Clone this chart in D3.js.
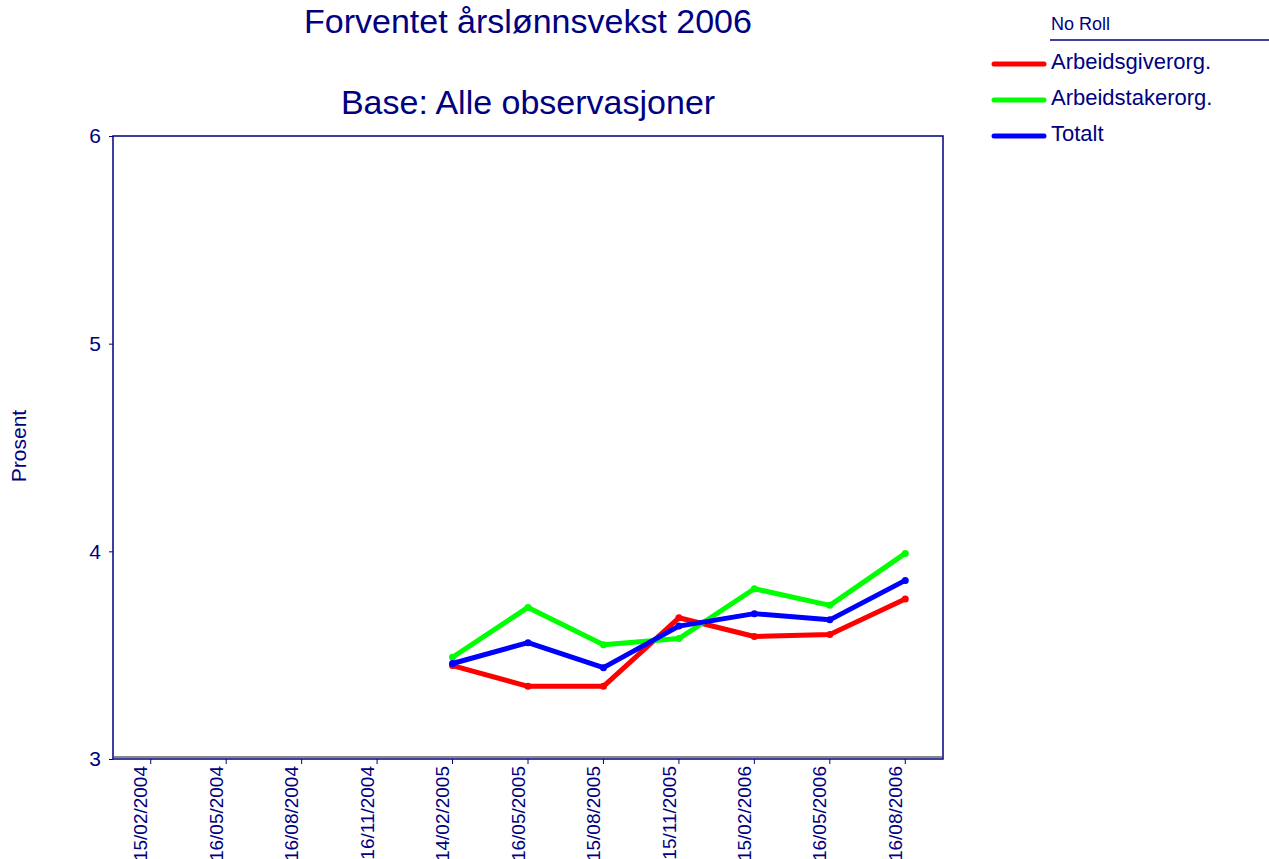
<!DOCTYPE html>
<html>
<head>
<meta charset="utf-8">
<script src="https://cdn.jsdelivr.net/npm/d3@7"></script>
<style>
  body { margin: 0; background: #fff; }
  text { font-family: "Liberation Sans", Arial, sans-serif; fill: #000080; }
</style>
</head>
<body>
<script>
var dates = ["15/02/2004", "16/05/2004", "16/08/2004", "16/11/2004", "14/02/2005",
             "16/05/2005", "15/08/2005", "15/11/2005", "15/02/2006", "16/05/2006", "16/08/2006"];

var arbeidsgiver = [null, null, null, null, 3.45, 3.35, 3.35, 3.68, 3.59, 3.60, 3.77];
var arbeidstaker = [null, null, null, null, 3.49, 3.73, 3.55, 3.58, 3.82, 3.74, 3.99];
var totalt       = [null, null, null, null, 3.46, 3.56, 3.44, 3.64, 3.70, 3.67, 3.86];

var yTicks = [3, 4, 5, 6];

var series = [
  {name: "Arbeidsgiverorg.", color: "#ff0000", values: arbeidsgiver},
  {name: "Arbeidstakerorg.", color: "#00ff00", values: arbeidstaker},
  {name: "Totalt", color: "#0000ff", values: totalt}
];

var svg = d3.select("body").append("svg")
    .attr("width", 1269)
    .attr("height", 859);

var margin = {left: 113, top: 136, right: 326, bottom: 100};
var width = 1269 - margin.left - margin.right;
var height = 859 - margin.top - margin.bottom;

var x = d3.scaleBand().domain(dates).range([0, width]);
var y = d3.scaleLinear().domain([3, 6]).range([height, 0]);

var g = svg.append("g")
    .attr("transform", "translate(" + margin.left + "," + margin.top + ")");

// titles
svg.append("text")
  .attr("x", margin.left + width / 2).attr("y", 33)
  .attr("text-anchor", "middle").style("font-size", "34px")
  .text("Forventet årslønnsvekst 2006");
svg.append("text")
  .attr("x", margin.left + width / 2).attr("y", 114)
  .attr("text-anchor", "middle").style("font-size", "34px")
  .text("Base: Alle observasjoner");

// y label
svg.append("text")
  .attr("transform", "translate(26,446) rotate(-90)")
  .attr("text-anchor", "middle").style("font-size", "21px")
  .text("Prosent");

// frame
g.append("rect")
  .attr("width", width).attr("height", height)
  .attr("fill", "none").attr("stroke", "#000080").attr("stroke-width", 1.5);
g.append("line")
  .attr("x1", 1).attr("x2", width - 1)
  .attr("y1", height - 2).attr("y2", height - 2)
  .attr("stroke", "#888").attr("stroke-width", 2);

// y axis
var yAxis = g.append("g")
  .call(d3.axisLeft(y).tickValues(yTicks).tickSize(4).tickPadding(8).tickFormat(d3.format("d")));
yAxis.select(".domain").remove();
yAxis.selectAll("line").attr("stroke", "#000080");
yAxis.selectAll("text").style("font-size", "21px").attr("fill", "#000080");

// x axis
var xAxis = g.append("g")
  .attr("transform", "translate(0," + height + ")")
  .call(d3.axisBottom(x).tickSize(5));
xAxis.select(".domain").remove();
xAxis.selectAll("line").attr("stroke", "#000080");
xAxis.selectAll("text")
  .style("font-size", "19px").attr("fill", "#000080")
  .attr("text-anchor", "end")
  .attr("transform", "rotate(-90)")
  .attr("x", -7).attr("y", -10).attr("dy", "0.35em");

// lines
var line = d3.line()
  .defined(function(d) { return d != null; })
  .x(function(d, i) { return x(dates[i]) + x.bandwidth() / 2; })
  .y(function(d) { return y(d); });

series.forEach(function(s) {
  g.append("path")
    .datum(s.values)
    .attr("fill", "none")
    .attr("stroke", s.color)
    .attr("stroke-width", 5)
    .attr("stroke-linejoin", "round")
    .attr("d", line);
  g.selectAll(null)
    .data(s.values.map(function(v, i) { return {v: v, i: i}; }).filter(function(d) { return d.v != null; }))
    .enter().append("circle")
    .attr("cx", function(d) { return x(dates[d.i]) + x.bandwidth() / 2; })
    .attr("cy", function(d) { return y(d.v); })
    .attr("r", 3.5)
    .attr("fill", s.color);
});

// legend
var legend = svg.append("g").attr("transform", "translate(992,0)");
legend.append("text").attr("x", 59).attr("y", 30).style("font-size", "18px").text("No Roll");
legend.append("line").attr("x1", 58).attr("x2", 277).attr("y1", 40).attr("y2", 40)
  .attr("stroke", "#000080").attr("stroke-width", 1.5);
series.forEach(function(s, i) {
  var yy = 64 + i * 36;
  legend.append("line")
    .attr("x1", 2).attr("x2", 52).attr("y1", yy).attr("y2", yy)
    .attr("stroke", s.color).attr("stroke-width", 5).attr("stroke-linecap", "round");
  legend.append("text").attr("x", 59).attr("y", yy + 5)
    .style("font-size", "22px").text(s.name);
});
</script>
</body>
</html>
